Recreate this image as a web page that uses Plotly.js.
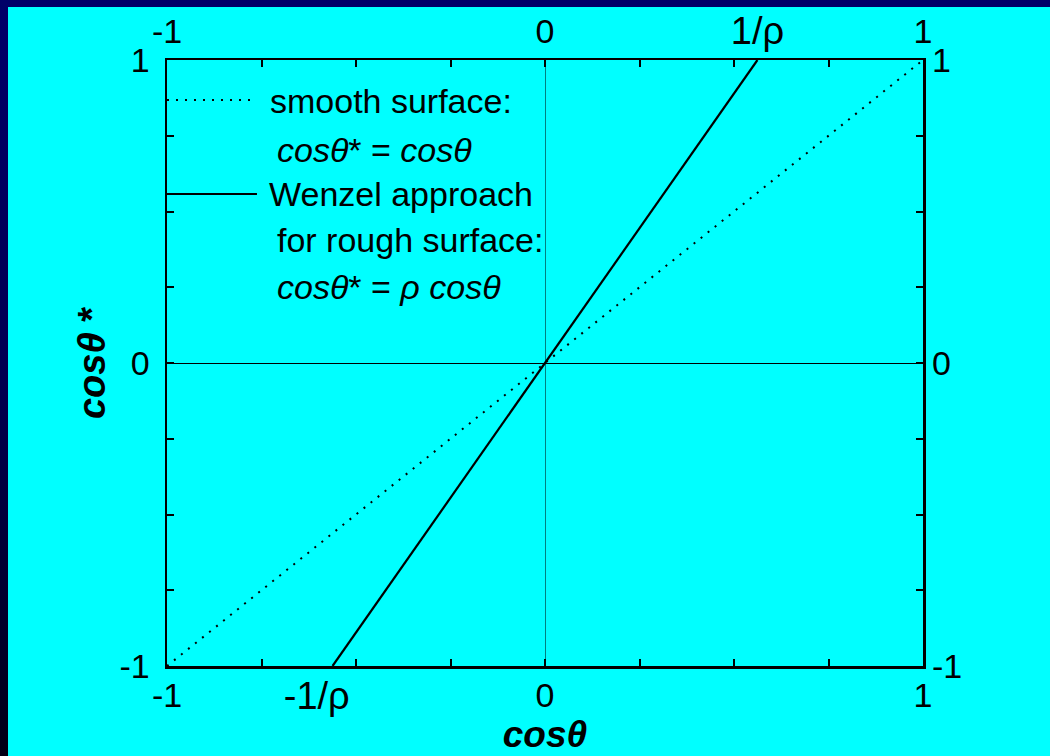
<!DOCTYPE html>
<html>
<head>
<meta charset="utf-8">
<script src="https://cdn.plot.ly/plotly-3.0.1.min.js"></script>
<style>
html,body{margin:0;padding:0;width:1050px;height:756px;overflow:hidden;
background:linear-gradient(180deg,#000068 0%,#000050 50%,#000015 100%);}
#chart{position:absolute;left:8px;top:7px;width:1042px;height:749px;}
</style>
</head>
<body>
<div id="chart"></div>
<script>
// ---- data ----
var smoothX = [-1, 1];
var smoothY = [-1, 1];
var wenzelX = [-0.562, 0.562];
var wenzelY = [-1, 1];

var gridTicks = [-1, -0.75, -0.5, -0.25, 0, 0.25, 0.5, 0.75, 1];
var xTickText = ["-1", "", "", "", "0", "", "", "", "1"];
var yTickText = ["-1", "", "", "", "0", "", "", "", "1"];
var invRhoNeg = [-0.562];
var invRhoPos = [0.562];
var invRhoNegText = ["-1/ρ\u00a0\u00a0\u00a0"];
var invRhoPosText = ["1/ρ"];

var legendText = [
  "smooth surface:",
  "<i>cosθ</i>* = <i>cosθ</i>",
  "Wenzel approach",
  "for rough surface:",
  "<i>cosθ</i>* = <i>ρ</i> <i>cosθ</i>"
];

var FONT = "Liberation Sans, Arial, sans-serif";
var fs = 34;

var traces = [
  {x: smoothX, y: smoothY, xaxis: "x", yaxis: "y", mode: "lines", type: "scatter",
   line: {color: "black", width: 2, dash: "2px,7px"}, hoverinfo: "skip", showlegend: false},
  {x: wenzelX, y: wenzelY, xaxis: "x", yaxis: "y", mode: "lines", type: "scatter",
   line: {color: "black", width: 2.2}, hoverinfo: "skip", showlegend: false},
  // carriers so the mirrored label axes are drawn (invisible)
  {x: smoothX, y: smoothY, xaxis: "x2", yaxis: "y2", mode: "lines", type: "scatter",
   line: {color: "rgba(0,0,0,0)", width: 0}, hoverinfo: "skip", showlegend: false},
  {x: wenzelX, y: wenzelY, xaxis: "x3", yaxis: "y", mode: "lines", type: "scatter",
   line: {color: "rgba(0,0,0,0)", width: 0}, hoverinfo: "skip", showlegend: false},
  {x: wenzelX, y: wenzelY, xaxis: "x4", yaxis: "y", mode: "lines", type: "scatter",
   line: {color: "rgba(0,0,0,0)", width: 0}, hoverinfo: "skip", showlegend: false}
];

var baseX = {
  range: [-1, 1], showgrid: false, zeroline: false, fixedrange: true
};

var layout = {
  width: 1042, height: 749,
  margin: {l: 159, r: 127, t: 53, b: 90},
  paper_bgcolor: "#00ffff",
  plot_bgcolor: "#00ffff",
  font: {family: FONT, color: "black", size: fs},
  showlegend: false,
  xaxis: Object.assign({}, baseX, {
    tickmode: "array", tickvals: gridTicks, ticktext: xTickText,
    ticks: "inside", ticklen: 7, tickwidth: 2, tickcolor: "black",
    showline: true, linewidth: 2.5, linecolor: "black", mirror: true,
    zeroline: true, zerolinecolor: "#008080", zerolinewidth: 1,
    tickfont: {size: fs}, ticklabelstandoff: -2,
    title: {text: "<b><i>cosθ</i></b>", font: {size: 37}, standoff: 4}
  }),
  xaxis2: Object.assign({}, baseX, {
    overlaying: "x", side: "top", anchor: "y",
    tickmode: "array", tickvals: gridTicks, ticktext: xTickText,
    ticks: "inside", ticklen: 7, tickwidth: 2, tickcolor: "black",
    showline: false, tickfont: {size: fs}, ticklabelstandoff: 9
  }),
  xaxis3: Object.assign({}, baseX, {
    overlaying: "x", side: "bottom", anchor: "y",
    tickmode: "array", tickvals: invRhoNeg, ticktext: invRhoNegText,
    ticks: "", showline: false, tickfont: {size: 38}, ticklabelstandoff: 4
  }),
  xaxis4: Object.assign({}, baseX, {
    overlaying: "x", side: "top", anchor: "y",
    tickmode: "array", tickvals: invRhoPos, ticktext: invRhoPosText,
    ticks: "", showline: false, tickfont: {size: 38}, ticklabelstandoff: 7
  }),
  yaxis: {
    range: [-1, 1], showgrid: false, fixedrange: true,
    tickmode: "array", tickvals: gridTicks, ticktext: yTickText,
    ticks: "inside", ticklen: 7, tickwidth: 2, tickcolor: "black",
    showline: true, linewidth: 2.5, linecolor: "black", mirror: true,
    zeroline: true, zerolinecolor: "black", zerolinewidth: 1,
    tickfont: {size: fs}, ticklabelstandoff: 8,
    title: {text: "<b><i>cosθ</i> *</b>", font: {size: 38}, standoff: 2}
  },
  yaxis2: {
    range: [-1, 1], showgrid: false, zeroline: false, fixedrange: true,
    overlaying: "y", side: "right", anchor: "x",
    tickmode: "array", tickvals: gridTicks, ticktext: yTickText,
    ticks: "inside", ticklen: 7, tickwidth: 2, tickcolor: "black",
    showline: false, tickfont: {size: fs}, ticklabelstandoff: 8
  },
  shapes: [
    {type: "line", xref: "paper", yref: "paper", x0: 0, x1: 0.11, y0: 0.934, y1: 0.934,
     line: {color: "black", width: 2, dash: "2px,7px"}},
    {type: "line", xref: "paper", yref: "paper", x0: 0, x1: 0.119, y0: 0.779, y1: 0.779,
     line: {color: "black", width: 2}}
  ],
  annotations: [
    {text: legendText[0], xref: "paper", yref: "paper", x: 0.133, y: 0.932, xanchor: "left", yanchor: "middle", showarrow: false, font: {size: fs}},
    {text: legendText[1], xref: "paper", yref: "paper", x: 0.143, y: 0.851, xanchor: "left", yanchor: "middle", showarrow: false, font: {size: fs}},
    {text: legendText[2], xref: "paper", yref: "paper", x: 0.132, y: 0.779, xanchor: "left", yanchor: "middle", showarrow: false, font: {size: fs}},
    {text: legendText[3], xref: "paper", yref: "paper", x: 0.143, y: 0.703, xanchor: "left", yanchor: "middle", showarrow: false, font: {size: fs}},
    {text: legendText[4], xref: "paper", yref: "paper", x: 0.143, y: 0.625, xanchor: "left", yanchor: "middle", showarrow: false, font: {size: fs}}
  ]
};

Plotly.newPlot("chart", traces, layout, {displayModeBar: false, staticPlot: true});
</script>
</body>
</html>
